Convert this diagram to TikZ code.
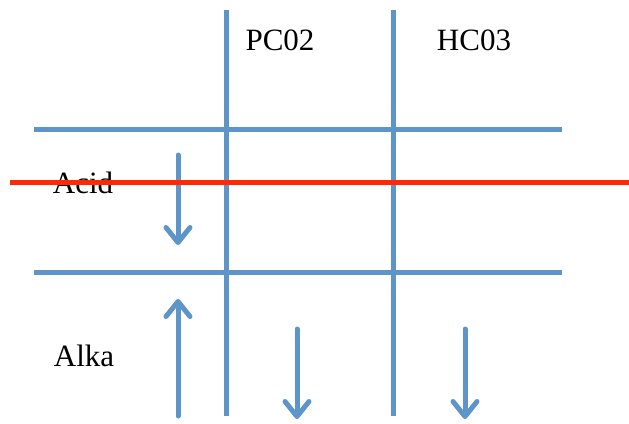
\documentclass[tikz,border=0pt]{standalone}
\usepackage{fontspec}
\setmainfont{Liberation Serif}
\usetikzlibrary{arrows.meta}
\definecolor{gridblue}{HTML}{5E95C9}
\definecolor{redline}{HTML}{FF2A00}
\tikzset{
  gridline/.style={draw=gridblue,line width=5pt},
  flow/.style={draw=gridblue,line width=5pt,line cap=round,
    -{Straight Barb[length=15pt,width=24pt,line cap=round,round]}},
  lbl/.style={anchor=base,inner sep=0pt,font=\fontsize{31}{37}\selectfont},
}
\begin{document}
\begin{tikzpicture}[x=1pt,y=-1pt]
\useasboundingbox (0,0) rectangle (629,423);
% grid coordinates
\coordinate (v1t) at (226,10);  \coordinate (v1b) at (226,416);
\coordinate (v2t) at (393,10);  \coordinate (v2b) at (393,416);
\coordinate (h1l) at (34,129);  \coordinate (h1r) at (562,129);
\coordinate (h2l) at (34,272);  \coordinate (h2r) at (562,272);
\draw[gridline] (v1t) -- (v1b);
\draw[gridline] (v2t) -- (v2b);
\draw[gridline] (h1l) -- (h1r);
\draw[gridline] (h2l) -- (h2r);
% labels
\node[lbl] (pc) at (280,50) {PC02};
\node[lbl] (hc) at (474,50) {HC03};
\node[lbl] (acid) at (83,193) {Acid};
\node[lbl] (alka) at (84,366) {Alka};
% arrows
\coordinate (a1s) at (178,155); \coordinate (a1e) at (178,245);
\coordinate (a2s) at (178,416); \coordinate (a2e) at (178,299);
\coordinate (a3s) at (297,329); \coordinate (a3e) at (297,419);
\coordinate (a4s) at (465,329); \coordinate (a4e) at (465,419);
\draw[flow] (a1s) -- (a1e);
\draw[flow] (a2s) -- (a2e);
\draw[flow] (a3s) -- (a3e);
\draw[flow] (a4s) -- (a4e);
% red line
\coordinate (rl) at (10,182); \coordinate (rr) at (629,182);
\draw[draw=redline,line width=5pt] (rl) -- (rr);
\end{tikzpicture}
\end{document}
